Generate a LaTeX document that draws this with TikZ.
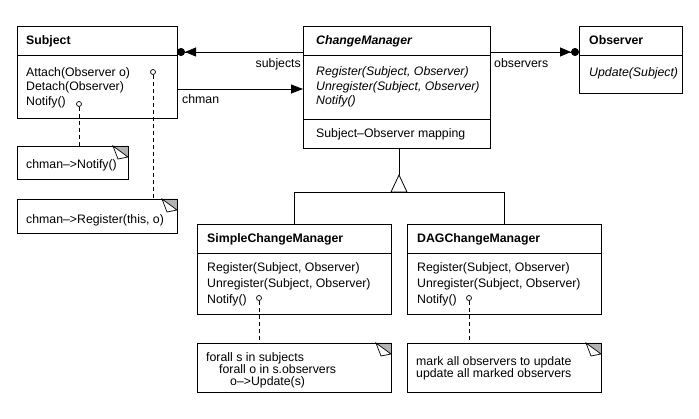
\documentclass[tikz,border=0pt]{standalone}
\usepackage{fontspec}
\setmainfont{Liberation Sans}
\usetikzlibrary{arrows.meta}
\newcommand\dogear[1]{%
  \fill[gray!60] ([xshift=-15pt]#1.north east) -- (#1.north east) -- ([yshift=-11pt]#1.north east) -- cycle;
  \filldraw[fill=white, line width=0.7pt] ([xshift=-15pt]#1.north east)
    .. controls ([xshift=-13pt,yshift=-7pt]#1.north east) .. ([xshift=-10pt,yshift=-13pt]#1.north east)
    -- ([yshift=-11pt]#1.north east) -- cycle;
  \draw[line width=0.8pt] (#1.north west) rectangle (#1.south east);
}
\begin{document}
\begin{tikzpicture}[x=1pt,y=-1pt,
  box/.style={draw, line width=0.8pt, inner sep=0pt, outer sep=0pt, anchor=north west, fill=white},
  lbl/.style={anchor=west, inner sep=0pt, text height=9pt, text depth=0pt, font=\fontsize{12.3}{14}\selectfont},
  divider/.style={line width=0.8pt},
  assoc/.style={line width=0.8pt, -{Triangle[length=11pt,width=9pt,sep=0pt]Circle[length=8pt,sep=0pt]}},
  nav/.style={line width=0.8pt, -{Triangle[length=12pt,width=9pt]}},
  pin/.style={circle, draw, line width=0.7pt, fill=white, minimum size=5pt, inner sep=0pt},
  notelink/.style={line width=0.8pt, dash pattern=on 4pt off 3pt},
  gen/.style={line width=0.8pt}
]
\useasboundingbox (0,0) rectangle (699,419);

% ---------- Subject ----------
\node[box, minimum width=160pt, minimum height=92pt] (subj) at (17,26) {};
\draw[divider] (subj.west |- 0,55) -- (subj.east |- 0,55);
\node[lbl] (subjT) at (26,40.5) {\bfseries Subject};
\node[lbl] (subjA) at (26,72) {Attach(Observer o)};
\node[lbl] (subjD) at (26,86) {Detach(Observer)};
\node[lbl] (subjN) at (26,101) {Notify()};

% ---------- ChangeManager ----------
\node[box, minimum width=187pt, minimum height=122pt] (cm) at (303,26) {};
\draw[divider] (cm.west |- 0,55) -- (cm.east |- 0,55);
\draw[divider] (cm.west |- 0,119) -- (cm.east |- 0,119);
\node[lbl] (cmT) at (316,40.5) {\bfseries\itshape ChangeManager};
\node[lbl] (cmR) at (316,71) {\itshape Register(Subject, Observer)};
\node[lbl] (cmU) at (316,86) {\itshape Unregister(Subject, Observer)};
\node[lbl] (cmN) at (316,100) {\itshape Notify()};
\node[lbl] (cmM) at (316,133.5) {Subject\textendash Observer mapping};

% ---------- Observer ----------
\node[box, minimum width=103pt, minimum height=67pt] (obs) at (579,26) {};
\draw[divider] (obs.west |- 0,55) -- (obs.east |- 0,55);
\node[lbl] (obsT) at (589,40.5) {\bfseries Observer};
\node[lbl] (obsU) at (589,72) {\itshape Update(Subject)};

% ---------- SimpleChangeManager ----------
\node[box, minimum width=194pt, minimum height=90pt] (scm) at (197,224) {};
\draw[divider] (scm.west |- 0,253) -- (scm.east |- 0,253);
\node[lbl] (scmT) at (207,238.5) {\bfseries SimpleChangeManager};
\node[lbl] (scmR) at (207,267) {Register(Subject, Observer)};
\node[lbl] (scmU) at (207,283) {Unregister(Subject, Observer)};
\node[lbl] (scmN) at (207,299) {Notify()};

% ---------- DAGChangeManager ----------
\node[box, minimum width=194pt, minimum height=90pt] (dag) at (407,224) {};
\draw[divider] (dag.west |- 0,253) -- (dag.east |- 0,253);
\node[lbl] (dagT) at (417,238.5) {\bfseries DAGChangeManager};
\node[lbl] (dagR) at (417,267) {Register(Subject, Observer)};
\node[lbl] (dagU) at (417,283) {Unregister(Subject, Observer)};
\node[lbl] (dagN) at (417,299) {Notify()};

% ---------- Notes ----------
\node[box, minimum width=111pt, minimum height=33pt] (n1) at (17,146) {};
\dogear{n1}
\node[lbl] (n1a) at (26,164) {chman\textendash>Notify()};

\node[box, minimum width=160pt, minimum height=34pt] (n2) at (17,199) {};
\dogear{n2}
\node[lbl] (n2a) at (26,219) {chman\textendash>Register(this, o)};

\node[box, minimum width=194pt, minimum height=49pt] (n3) at (197,343) {};
\dogear{n3}
\node[lbl] (n3a) at (206,357.5) {forall s in subjects};
\node[lbl] (n3b) at (219,369.5) {forall o in s.observers};
\node[lbl] (n3c) at (230,381) {o\textendash>Update(s)};

\node[box, minimum width=194pt, minimum height=49pt] (n4) at (407,343) {};
\dogear{n4}
\node[lbl] (n4a) at (416,361) {mark all observers to update};
\node[lbl] (n4b) at (416,373) {update all marked observers};

% ---------- Note links ----------
\node[pin] (c1) at (79,104) {};
\node[pin] (c2) at (153,72) {};
\node[pin] (c3) at (259,298) {};
\node[pin] (c4) at (469,298) {};
\draw[notelink] (c1.south) -- (c1 |- n1.north);
\draw[notelink] (c2.south) -- (c2 |- n2.north);
\draw[notelink] (c3.south) -- (c3 |- n3.north);
\draw[notelink] (c4.south) -- (c4 |- n4.north);

% ---------- Associations ----------
\draw[assoc] (cm.west |- 0,52) -- (subj.east |- 0,52);
\draw[nav] (subj.east |- 0,89) -- (cm.west |- 0,89);
\draw[assoc] (cm.east |- 0,52) -- (obs.west |- 0,52);
\node[lbl, anchor=east] (lsub) at (301,63) {subjects};
\node[lbl] (lch) at (182,99) {chman};
\node[lbl] (lobs) at (494,63) {observers};

% ---------- Generalization ----------
\coordinate (apex) at (399,175);
\coordinate (bar) at (399,192);
\draw[gen] (cm.south -| apex) -- (apex);
\draw[gen] (scm.north) -- (scm.north |- bar) -- (dag.north |- bar) -- (dag.north);
\draw[gen, fill=white] (apex) -- ([xshift=-8pt]bar) -- ([xshift=8pt]bar) -- cycle;
\end{tikzpicture}
\end{document}
